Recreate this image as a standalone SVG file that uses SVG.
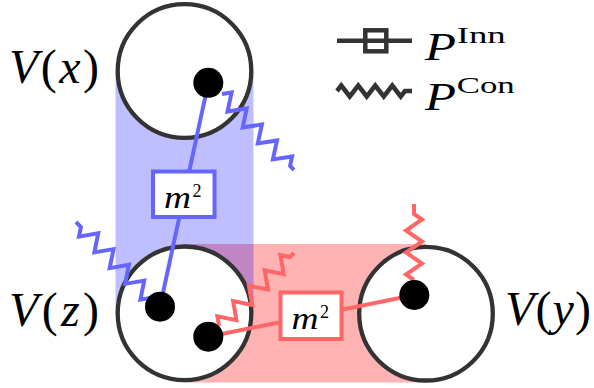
<svg xmlns="http://www.w3.org/2000/svg" width="594" height="388" viewBox="0 0 594 388">
<style>
.ring{fill:#fff;stroke:#333;stroke-width:4.3}
.dot{fill:#000}
.lbl{font-family:"Liberation Serif","DejaVu Serif",serif;fill:#000}
.it{font-style:italic}
.bl{stroke:#6666ff;stroke-width:4;fill:none}
.rd{stroke:#ff6666;stroke-width:4;fill:none}
.zz{stroke-linejoin:miter;stroke-miterlimit:10}
.box{fill:#fff;stroke-width:4}
.leg{stroke:#333;stroke-width:4.5;fill:none}
</style>
<g id="regions">
<rect x="184.5" y="244" width="241.5" height="138.5" fill="#ff0000" fill-opacity="0.3"/>
<rect x="115.5" y="71" width="138" height="242.5" fill="#0000ff" fill-opacity="0.25"/>
</g>
<g id="Vx">
<circle class="ring" cx="184.5" cy="71" r="66.8"/>
<text class="lbl" x="9" y="83.3" font-size="48" textLength="90" lengthAdjust="spacing"><tspan class="it">V</tspan>(<tspan class="it">x</tspan>)</text>
</g>
<g id="Vz">
<circle class="ring" cx="184.5" cy="313.3" r="66.8"/>
<text class="lbl" x="9" y="325.6" font-size="48" textLength="90" lengthAdjust="spacing"><tspan class="it">V</tspan>(<tspan class="it">z</tspan>)</text>
</g>
<g id="Vy">
<circle class="ring" cx="426" cy="313.7" r="66.8"/>
<text class="lbl" x="505" y="325" font-size="48" textLength="86" lengthAdjust="spacing"><tspan class="it">V</tspan>(<tspan class="it">y</tspan>)</text>
</g>
<g id="connectors">
<line class="bl" x1="208.3" y1="82.8" x2="160" y2="306.7"/>
<line class="rd" x1="208.3" y1="336.7" x2="414.3" y2="295"/>
<polyline class="bl zz" points="222,94 231.6,92.5 227.5,111.5 246.7,108.5 242.7,127.5 261.9,124.4 257.8,143.4 277,140.4 272.9,159.4 292.1,156.4 290.1,165.9 294,170"/>
<polyline class="bl zz" points="150,298 140.4,299.6 144.2,280.6 125.1,283.9 128.9,264.8 109.7,268.1 113.5,249.1 94.4,252.4 98.2,233.3 79,236.6 80.9,227.1 76,222"/>
<polyline class="rd zz" points="219,326 217.4,316.4 236.4,320.2 233.1,301.1 252.2,304.9 248.9,285.7 267.9,289.5 264.7,270.4 283.7,274.2 280.4,255.1 289.9,257 294,253"/>
<polyline class="rd zz" points="414,280 406,274.5 422,263.5 406,252.5 422,241.5 406,230.5 422,219.5 414,214 414,204"/>
</g>
<g id="points">
<circle id="px" class="dot" cx="208.3" cy="82.8" r="15"/>
<circle id="pz1" class="dot" cx="160" cy="306.7" r="15"/>
<circle id="pz2" class="dot" cx="208.3" cy="336.7" r="15"/>
<circle id="py" class="dot" cx="414.3" cy="295" r="15"/>
</g>
<g id="m2-blue">
<rect class="box" x="153" y="171.5" width="61.5" height="45.5" stroke="#6666ff"/>
<text class="lbl it" x="164" y="208.3" font-size="31" textLength="27" lengthAdjust="spacingAndGlyphs">m</text>
<text class="lbl" x="192.5" y="196.7" font-size="18">2</text>
</g>
<g id="m2-red">
<rect class="box" x="280.5" y="292.5" width="61" height="46.5" stroke="#ff6666"/>
<text class="lbl it" x="291.5" y="329.3" font-size="31" textLength="27" lengthAdjust="spacingAndGlyphs">m</text>
<text class="lbl" x="320" y="317.7" font-size="18">2</text>
</g>
<g id="legend">
<line class="leg" x1="337" y1="40.8" x2="412" y2="40.8"/>
<rect class="leg" x="365.3" y="30.3" width="21" height="21" fill="#fff"/>
<polyline class="leg zz" points="337,91 341.25,85.5 349.75,96.5 358.25,85.5 366.75,96.5 375.25,85.5 383.75,96.5 392.25,85.5 400.75,96.5 405,91 412,91"/>
<text class="lbl it" x="425" y="60" font-size="40" textLength="31" lengthAdjust="spacingAndGlyphs">P</text>
<text class="lbl" x="456.7" y="43.3" font-size="23" textLength="49" lengthAdjust="spacingAndGlyphs">Inn</text>
<text class="lbl it" x="425" y="110" font-size="40" textLength="31" lengthAdjust="spacingAndGlyphs">P</text>
<text class="lbl" x="456.7" y="93.3" font-size="23" textLength="58" lengthAdjust="spacingAndGlyphs">Con</text>
</g>
</svg>
